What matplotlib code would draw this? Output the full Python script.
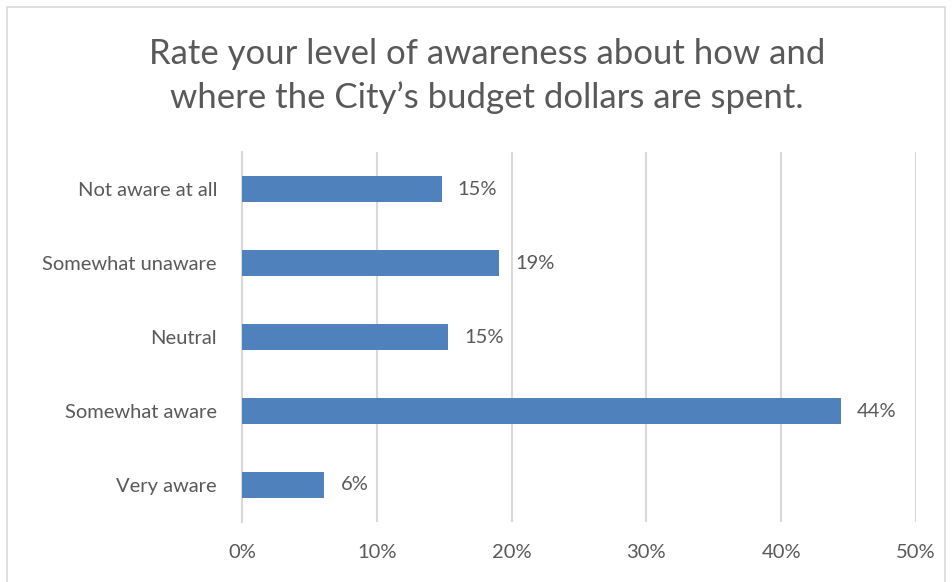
import matplotlib.pyplot as plt
from matplotlib.patches import Rectangle

# data
categories = ['Not aware at all', 'Somewhat unaware', 'Neutral', 'Somewhat aware', 'Very aware']
values = [14.8, 19.1, 15.3, 44.4, 6.1]
labels = ['15%', '19%', '15%', '44%', '6%']
xticks = [0, 10, 20, 30, 40, 50]

plt.rcParams['font.family'] = ['Lato', 'DejaVu Sans']
grey = '#595959'

fig = plt.figure(figsize=(9.52, 5.82), dpi=100)
ax = fig.add_axes([242/952, 1-522/582, (916-242)/952, (522-152)/582])

# border of the chart
fig.patches.append(Rectangle((7/952, -0.01), 938/952, 1-7/582+0.01, transform=fig.transFigure,
                             fill=False, edgecolor='#D9D9D9', lw=1.2))

ypos = list(range(len(categories)))[::-1]
ax.barh(ypos, values, height=0.35, color='#4F81BD', zorder=3)
for y, v, t in zip(ypos, values, labels):
    ax.text(v + 1.2, y, t, va='center', ha='left', fontsize=14.5, color=grey)

ax.set_xlim(0, 50)
ax.set_ylim(-0.5, len(categories) - 0.5)
ax.set_xticks(xticks)
ax.set_xticklabels([str(x) + '%' for x in xticks])
ax.set_yticks(ypos)
ax.set_yticklabels(categories)
ax.tick_params(axis='both', length=0, labelsize=14.5, colors=grey)
ax.tick_params(axis='x', pad=16)
ax.tick_params(axis='y', pad=18)
ax.grid(axis='x', color='#D9D9D9', lw=1.5, zorder=0)
for s in ['top', 'right', 'bottom']:
    ax.spines[s].set_visible(False)
ax.spines['left'].set_color('#D9D9D9')
ax.spines['left'].set_linewidth(1.5)

fig.text(487/952, 1-76/582, 'Rate your level of awareness about how and\nwhere the City\u2019s budget dollars are spent.',
         ha='center', va='center', fontsize=25, color=grey, linespacing=1.45)

fig.savefig('out.png', dpi=100)
